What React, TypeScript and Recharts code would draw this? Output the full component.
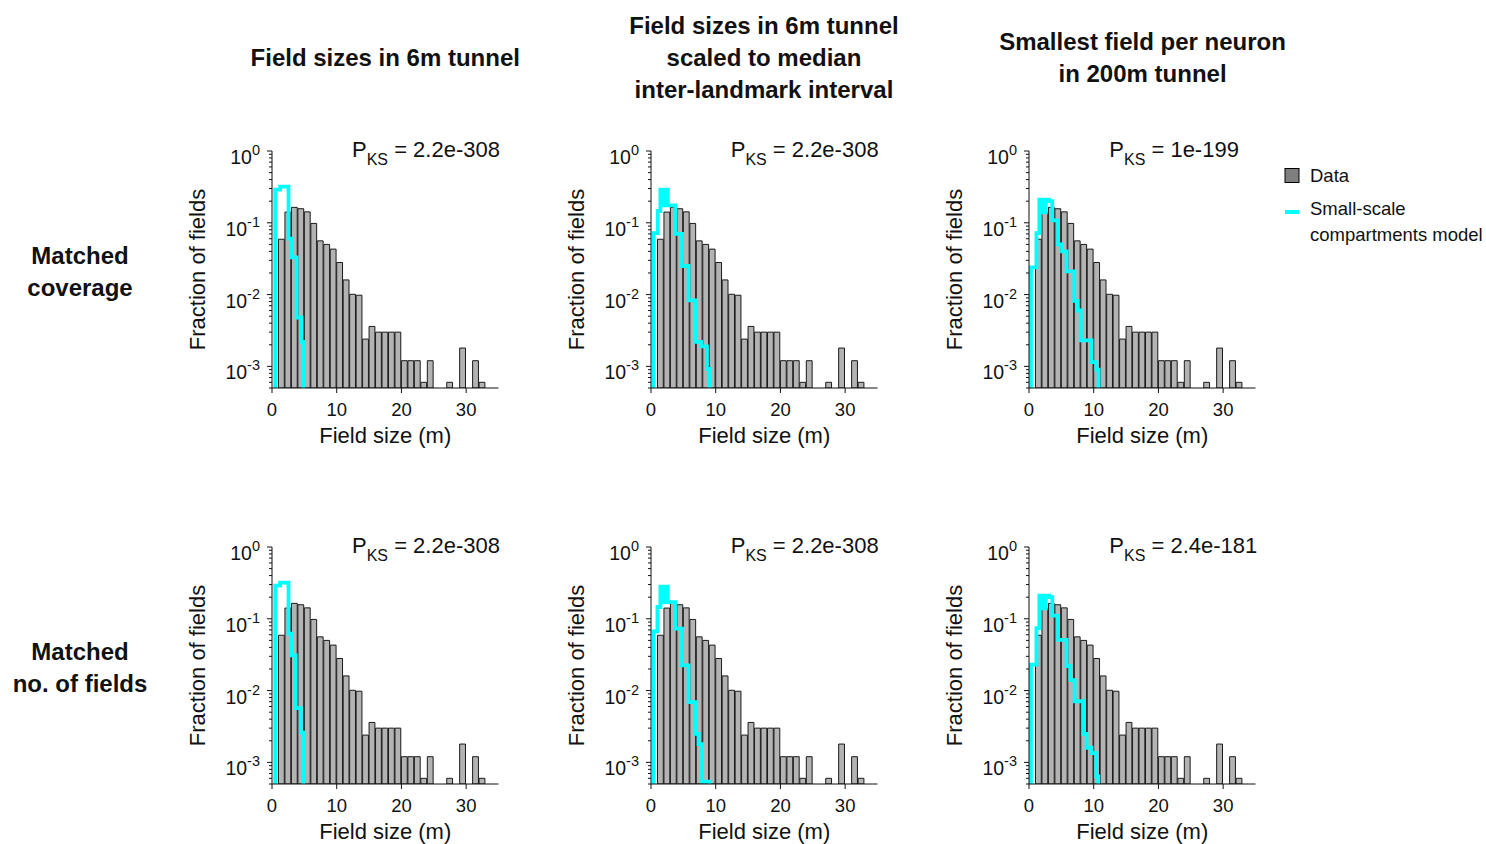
import React from 'react';
import { ComposedChart, Bar, Line, XAxis, YAxis, Legend } from 'recharts';

const FONT = '"Liberation Sans", Arial, Helvetica, sans-serif';
const INK = '#111111';

// ---------- data ----------
const BIN_STARTS = [0, 1, 2, 3, 4, 5, 6, 7, 8, 9, 10, 11, 12, 13, 14, 15, 16, 17, 18, 19, 20, 21, 22, 23, 24, 25, 26, 27, 28, 29, 30, 31, 32, 33, 34];
const DATA_FRACTION = [null, 0.059, 0.141, 0.164, 0.157, 0.142, 0.098, 0.056, 0.05, 0.043, 0.028, 0.016, 0.0101, 0.0098, 0.0024, 0.0036, 0.003, 0.003, 0.003, 0.003, 0.0012, 0.0012, 0.0012, 0.0006, 0.0012, null, null, 0.0006, null, 0.0018, null, 0.0012, 0.0006, null, null];

const X_DOMAIN = [0, 35];
const X_TICKS = [0, 10, 20, 30];
const Y_MIN = 5e-4;
const Y_MAX = 1;
const Y_MAJOR_TICKS = [1, 0.1, 0.01, 0.001];
const Y_MINOR_DECADES = [0.1, 0.01, 0.001, 0.0001];
const Y_MINOR_MULTIPLIERS = [2, 3, 4, 5, 6, 7, 8, 9];

const MODEL_R1C1_EDGES = [0.5, 1.25, 2.55, 3.0, 3.8, 4.55, 4.85];
const MODEL_R1C1_VALUES = [0.29, 0.32, 0.06, 0.033, 0.0048, 0.0022];
const MODEL_R1C2_EDGES = [0.4, 1.05, 1.45, 1.9, 2.25, 2.6, 3.75, 4.8, 5.8, 6.85, 7.75, 8.65, 9.05];
const MODEL_R1C2_VALUES = [0.072, 0.146, 0.29, 0.175, 0.29, 0.175, 0.07, 0.025, 0.0083, 0.0022, 0.0019, 0.00092];
const MODEL_R1C3_EDGES = [0.3, 1.15, 1.6, 2.1, 2.6, 3.1, 3.6, 4.5, 5.1, 5.8, 7.0, 7.5, 8.0, 9.65, 10.4, 10.75];
const MODEL_R1C3_VALUES = [0.024, 0.072, 0.21, 0.14, 0.21, 0.2, 0.108, 0.05, 0.04, 0.021, 0.0082, 0.006, 0.0023, 0.00115, 0.0009];
const MODEL_R2C1_EDGES = [0.5, 1.25, 2.55, 3.05, 3.65, 4.45, 4.85];
const MODEL_R2C1_VALUES = [0.29, 0.32, 0.062, 0.031, 0.0057, 0.0026];
const MODEL_R2C2_EDGES = [0.4, 1.0, 1.45, 1.9, 2.25, 2.6, 3.75, 4.8, 5.8, 6.85, 7.35, 7.9, 9.05];
const MODEL_R2C2_VALUES = [0.067, 0.146, 0.28, 0.17, 0.28, 0.171, 0.073, 0.0225, 0.0069, 0.0025, 0.0018, 0.00054];
const MODEL_R2C3_EDGES = [0.3, 1.15, 1.6, 2.1, 2.6, 3.1, 3.6, 4.5, 5.8, 6.4, 7.05, 8.4, 8.9, 9.65, 10.4, 10.7];
const MODEL_R2C3_VALUES = [0.023, 0.074, 0.21, 0.14, 0.21, 0.2, 0.111, 0.051, 0.022, 0.014, 0.0071, 0.0025, 0.0016, 0.00135, 0.00064];

const COLUMN_TITLES = [
  ['Field sizes in 6m tunnel'],
  ['Field sizes in 6m tunnel', 'scaled to median', 'inter-landmark interval'],
  ['Smallest field per neuron', 'in 200m tunnel'],
];
const ROW_LABELS = [
  ['Matched', 'coverage'],
  ['Matched', 'no. of fields'],
];
const P_KS_VALUES = [
  ['2.2e-308', '2.2e-308', '1e-199'],
  ['2.2e-308', '2.2e-308', '2.4e-181'],
];
const SERIES_DATA_NAME = 'Data';
const SERIES_MODEL_NAME = 'Small-scale compartments model';
const X_TITLE = 'Field size (m)';
const Y_TITLE = 'Fraction of fields';

// ---------- derived ----------
const histData = BIN_STARTS.map((b, i) => ({ bin: b, frac: DATA_FRACTION[i] }));

const MODELS = [
  [
    { edges: MODEL_R1C1_EDGES, values: MODEL_R1C1_VALUES },
    { edges: MODEL_R1C2_EDGES, values: MODEL_R1C2_VALUES },
    { edges: MODEL_R1C3_EDGES, values: MODEL_R1C3_VALUES },
  ],
  [
    { edges: MODEL_R2C1_EDGES, values: MODEL_R2C1_VALUES },
    { edges: MODEL_R2C2_EDGES, values: MODEL_R2C2_VALUES },
    { edges: MODEL_R2C3_EDGES, values: MODEL_R2C3_VALUES },
  ],
];

function buildSteps(edges: number[], values: number[]) {
  const pts: { x: number; y: number }[] = [{ x: edges[0], y: Y_MIN }];
  values.forEach((v, i) => pts.push({ x: edges[i + 1], y: v }));
  pts.push({ x: edges[edges.length - 1], y: Y_MIN });
  return pts;
}

const Y_TICKS = (() => {
  const t: number[] = [...Y_MAJOR_TICKS];
  Y_MINOR_DECADES.forEach((d) =>
    Y_MINOR_MULTIPLIERS.forEach((m) => {
      const v = m * d;
      if (v >= Y_MIN * 0.999 && v < Y_MAX) t.push(v);
    })
  );
  return t.sort((a, b) => a - b);
})();

const isMajor = (v: number) => Y_MAJOR_TICKS.some((m) => Math.abs(v / m - 1) < 1e-6);

// ---------- layout ----------
const AXIS_X = [272, 650.7, 1029.3];
const PLOT_TOP = [150.7, 546.5];
const PLOT_W = 226.5;
const PLOT_H = 237;
const M_LEFT = 100;
const M_TOP = 30;
const M_BOTTOM = 70;
const BAR_W = PLOT_W / BIN_STARTS.length;

const YTick = (props: any) => {
  const { x, y, payload } = props;
  const v = payload.value;
  const major = isMajor(v);
  const exp = Math.round(Math.log10(v));
  return (
    <g>
      <line x1={x} x2={x - (major ? 5 : 3)} y1={y} y2={y} stroke={INK} strokeWidth={1} />
      {major && (
        <text x={x - 12} y={y + 13} textAnchor="end" fontSize={19.5} fontFamily={FONT} fill={INK}>
          10
          <tspan dy={-9} fontSize={14.5}>{String(exp)}</tspan>
        </text>
      )}
    </g>
  );
};

const XTitle = (props: any) => {
  const vb = props.viewBox || { x: 0, y: 0, width: 0, height: 0 };
  return (
    <text x={vb.x + vb.width / 2} y={vb.y + 55} textAnchor="middle" fontSize={22} fontFamily={FONT} fill={INK}>
      {X_TITLE}
    </text>
  );
};

const YTitle = (props: any) => {
  const vb = props.viewBox || { x: 0, y: 0, width: 0, height: 0 };
  const cx = vb.x + vb.width - 67;
  const cy = vb.y + vb.height / 2;
  return (
    <text x={cx} y={cy} textAnchor="middle" fontSize={22} fontFamily={FONT} fill={INK} transform={`rotate(-90, ${cx}, ${cy})`}>
      {Y_TITLE}
    </text>
  );
};

const LegendContent = (props: any) => {
  const payload = props.payload || [];
  return (
    <svg width={200} height={90} style={{ overflow: 'visible', display: 'block' }}>
      {payload.map((entry: any, i: number) => {
        const isLine = entry.type === 'line';
        const name: string = String(entry.value);
        if (!isLine) {
          return (
            <g key={i}>
              <rect x={2} y={6.5} width={14} height={14} fill="#7f7f7f" stroke="#000" strokeWidth={1} />
              <text x={27} y={20} fontSize={18.5} fontFamily={FONT} fill={INK}>{name}</text>
            </g>
          );
        }
        const sp = name.indexOf(' ');
        const l1 = sp > 0 ? name.slice(0, sp) : name;
        const l2 = sp > 0 ? name.slice(sp + 1) : '';
        return (
          <g key={i}>
            <line x1={2} x2={16} y1={50} y2={50} stroke="#00ffff" strokeWidth={4} />
            <text x={27} y={53} fontSize={18.5} fontFamily={FONT} fill={INK}>{l1}</text>
            <text x={27} y={79} fontSize={18.5} fontFamily={FONT} fill={INK}>{l2}</text>
          </g>
        );
      })}
    </svg>
  );
};

function Panel({ row, col }: { row: number; col: number }) {
  const model = MODELS[row][col];
  const steps = buildSteps(model.edges, model.values);
  const withLegend = row === 0 && col === 2;
  const mRight = withLegend ? 230 : 20;
  const width = M_LEFT + PLOT_W + mRight;
  const height = M_TOP + PLOT_H + M_BOTTOM;
  return (
    <div style={{ position: 'absolute', left: AXIS_X[col] - M_LEFT, top: PLOT_TOP[row] - M_TOP }}>
      <ComposedChart
        width={width}
        height={height}
        data={histData}
        margin={{ top: M_TOP, right: mRight, bottom: M_BOTTOM - 30, left: M_LEFT - 60 }}
        barCategoryGap={0}
        barGap={0}
      >
        <XAxis xAxisId="cat" dataKey="bin" type="category" hide height={0} />
        <XAxis
          xAxisId="num"
          dataKey="x"
          type="number"
          domain={X_DOMAIN}
          ticks={X_TICKS}
          allowDataOverflow
          interval={0}
          height={30}
          tickSize={5}
          tickMargin={10}
          tick={{ fontSize: 18.5, fill: INK, fontFamily: FONT }}
          tickLine={{ stroke: INK }}
          axisLine={{ stroke: INK }}
          label={<XTitle />}
        />
        <YAxis
          type="number"
          scale="log"
          domain={[Y_MIN, Y_MAX]}
          allowDataOverflow
          ticks={Y_TICKS}
          interval={0}
          width={60}
          tickSize={0}
          tickMargin={0}
          tickLine={false}
          axisLine={{ stroke: INK }}
          tick={<YTick />}
          label={<YTitle />}
        />
        <Bar
          xAxisId="cat"
          dataKey="frac"
          name={SERIES_DATA_NAME}
          barSize={BAR_W}
          fill="#b3b3b3"
          stroke="#1a1a1a"
          strokeWidth={1}
          isAnimationActive={false}
        />
        <Line
          xAxisId="num"
          data={steps}
          dataKey="y"
          name={SERIES_MODEL_NAME}
          type="stepBefore"
          stroke="#00ffff"
          strokeWidth={3.8}
          dot={false}
          activeDot={false}
          isAnimationActive={false}
        />
        {withLegend && (
          <Legend
            layout="vertical"
            align="center"
            verticalAlign="middle"
            wrapperStyle={{ left: 1283 - (AXIS_X[2] - M_LEFT), top: 162 - (PLOT_TOP[0] - M_TOP), width: 200 }}
            content={<LegendContent />}
          />
        )}
      </ComposedChart>
    </div>
  );
}

function Overlay() {
  const titleCenters = AXIS_X.map((x) => x + PLOT_W / 2);
  const titleLineY = [[65.5], [33.5, 65.5, 97.5], [49.5, 81.5]];
  const rowLineY = [[263.5, 295.5], [659.5, 691.5]];
  return (
    <svg width={1486} height={844} style={{ position: 'absolute', left: 0, top: 0, pointerEvents: 'none' }}>
      {COLUMN_TITLES.map((lines, c) =>
        lines.map((t, k) => (
          <text key={`t${c}${k}`} x={titleCenters[c]} y={titleLineY[c][k]} textAnchor="middle" fontSize={24} fontWeight="bold" fontFamily={FONT} fill={INK}>
            {t}
          </text>
        ))
      )}
      {ROW_LABELS.map((lines, r) =>
        lines.map((t, k) => (
          <text key={`r${r}${k}`} x={80} y={rowLineY[r][k]} textAnchor="middle" fontSize={24} fontWeight="bold" fontFamily={FONT} fill={INK}>
            {t}
          </text>
        ))
      )}
      {P_KS_VALUES.map((vals, r) =>
        vals.map((v, c) => (
          <text key={`p${r}${c}`} x={AXIS_X[c] + 80} y={PLOT_TOP[r] + 6.5} fontSize={22} fontFamily={FONT} fill={INK} style={{ whiteSpace: 'pre' }}>
            P
            <tspan fontSize={16} dy={7.5}>KS</tspan>
            <tspan fontSize={22} dy={-7.5}>{' = ' + v}</tspan>
          </text>
        ))
      )}
    </svg>
  );
}

export default function App() {
  return (
    <div style={{ position: 'absolute', left: 0, top: 0, width: 1486, height: 844, background: '#ffffff', fontFamily: FONT }}>
      {[0, 1].map((r) => [0, 1, 2].map((c) => <Panel key={`${r}-${c}`} row={r} col={c} />))}
      <Overlay />
    </div>
  );
}
